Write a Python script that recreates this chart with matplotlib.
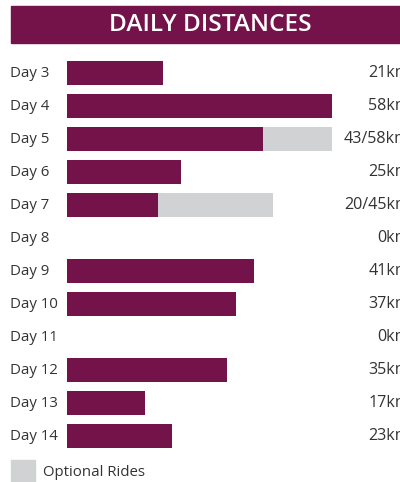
import matplotlib
matplotlib.use("Agg")
import matplotlib.pyplot as plt
from matplotlib.patches import Rectangle
from matplotlib.transforms import blended_transform_factory

# ---------- Data ----------
days = ["Day 3", "Day 4", "Day 5", "Day 6", "Day 7", "Day 8",
        "Day 9", "Day 10", "Day 11", "Day 12", "Day 13", "Day 14"]
main_km = [21, 58, 43, 25, 20, 0, 41, 37, 0, 35, 17, 23]
optional_km = [0, 0, 15, 0, 25, 0, 0, 0, 0, 0, 0, 0]
value_labels = ["21km", "58km", "43/58km", "25km", "20/45km", "0km",
                "41km", "37km", "0km", "35km", "17km", "23km"]

PURPLE = "#74134a"
GREY = "#d1d2d4"
TEXT = "#333333"
W, H = 400, 482
FONT = ["Open Sans", "DejaVu Sans"]

fig = plt.figure(figsize=(W / 100, H / 100), dpi=100)

# bar area: x from 67px to 400px, rows centred at 73 + 33*i
x0, x1 = 67, 400
px_per_km = (332 - 67) / 58
top, bot = 73 - 16.5, 73 + 33 * 11 + 16.5
ax = fig.add_axes([x0 / W, 1 - bot / H, (x1 - x0) / W, (bot - top) / H])
ax.set_xlim(0, (x1 - x0) / px_per_km)
ax.set_ylim(len(days) - 0.5, -0.5)
ax.axis("off")

ypos = list(range(len(days)))
ax.barh(ypos, main_km, height=0.73, color=PURPLE)
ax.barh(ypos, optional_km, left=main_km, height=0.73, color=GREY)

# day labels on the left, values on the right (cut at the edge, as in the original)
tr = blended_transform_factory(fig.transFigure, ax.transData)
for i, d in enumerate(days):
    ax.text(10 / W, i, d, transform=tr, ha="left", va="center",
            fontsize=10.8, color=TEXT, family=FONT)
    ax.text(410 / W, i, value_labels[i], transform=tr, ha="right", va="center",
            fontsize=11.6, color=TEXT, family=FONT, clip_on=False)

# title band
fig.patches.append(Rectangle((11 / W, 1 - 43 / H), 1, 37 / H,
                             transform=fig.transFigure, color=PURPLE))
fig.text(210 / W, 1 - 25 / H, "DAILY DISTANCES", ha="center", va="center",
         fontsize=17.6, fontweight="semibold", color="white", family=FONT)

# legend
fig.patches.append(Rectangle((11 / W, 1 - 482 / H), 24 / W, 22 / H,
                             transform=fig.transFigure, color=GREY))
fig.text(43 / W, 1 - 472 / H, "Optional Rides", ha="left", va="center",
         fontsize=10.8, color=TEXT, family=FONT)

fig.savefig("out.png", dpi=100)
